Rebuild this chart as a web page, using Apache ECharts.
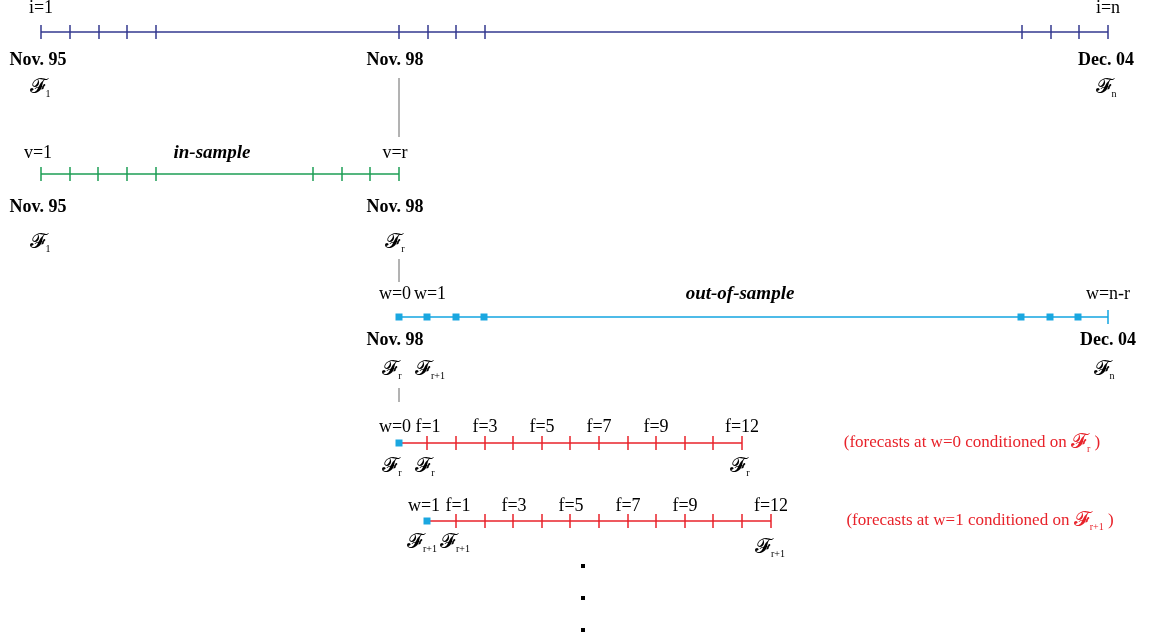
<!DOCTYPE html>
<html><head><meta charset="utf-8">
<script src="https://cdn.jsdelivr.net/npm/echarts@6/dist/echarts.min.js"></script>
<style>html,body{margin:0;background:#fff}#c{width:1154px;height:643px}</style>
</head><body><div id="c"></div>
<script>
// diagram coordinates: x, y in page units (y grows downward)
const timeline = { y: 32, from: 41, to: 1108, ticks: [41, 70, 99, 127, 156, 399, 428, 456, 485, 1022, 1051, 1079, 1108] };
const inSample = { y: 174, from: 41, to: 399, ticks: [41, 70, 98, 127, 156, 313, 342, 370, 399] };
const outSample = { y: 317, from: 399, to: 1108, squares: [399, 427, 456, 484, 1021, 1050, 1078], ticks: [1108] };
const fcast0 = { y: 443, from: 399, to: 742, squares: [399], ticks: [427, 456, 485, 513, 542, 570, 599, 628, 656, 685, 713, 742] };
const fcast1 = { y: 521, from: 427, to: 771, squares: [427], ticks: [456, 485, 513, 542, 570, 599, 628, 656, 685, 713, 742, 771] };
const connectors = [[399, 78, 137], [399, 259, 282], [399, 388, 402]];
const dots = [[583, 566], [583, 598], [583, 630]];

const F = s => '{f|𝓕}{s|' + s + '}';
const texts = [
  [41, 8, 'i=1', 'p'], [1108, 8, 'i=n', 'p'],
  [38, 60, 'Nov. 95', 'b'], [395, 60, 'Nov. 98', 'b'], [1106, 60, 'Dec. 04', 'b'],
  [40, 88, F('1'), 'p'], [1106, 88, F('n'), 'p'],
  [38, 153, 'v=1', 'p'], [212, 153, 'in-sample', 'bi'], [395, 153, 'v=r', 'p'],
  [38, 207, 'Nov. 95', 'b'], [395, 207, 'Nov. 98', 'b'],
  [40, 243, F('1'), 'p'], [395, 243, F('r'), 'p'],
  [395, 294, 'w=0', 'p'], [430, 294, 'w=1', 'p'], [740, 294, 'out-of-sample', 'bi'], [1108, 294, 'w=n-r', 'p'],
  [395, 340, 'Nov. 98', 'b'], [1108, 340, 'Dec. 04', 'b'],
  [392, 370, F('r'), 'p'], [430, 370, F('r+1'), 'p'], [1104, 370, F('n'), 'p'],
  [395, 427, 'w=0', 'p'], [428, 427, 'f=1', 'p'], [485, 427, 'f=3', 'p'], [542, 427, 'f=5', 'p'],
  [599, 427, 'f=7', 'p'], [656, 427, 'f=9', 'p'], [742, 427, 'f=12', 'p'],
  [392, 467, F('r'), 'p'], [425, 467, F('r'), 'p'], [740, 467, F('r'), 'p'],
  [972, 443, '(forecasts at w=0 conditioned on ' + F('r') + ' )', 'r'],
  [424, 506, 'w=1', 'p'], [458, 506, 'f=1', 'p'], [514, 506, 'f=3', 'p'], [571, 506, 'f=5', 'p'],
  [628, 506, 'f=7', 'p'], [685, 506, 'f=9', 'p'], [771, 506, 'f=12', 'p'],
  [422, 543, F('r+1'), 'p'], [455, 543, F('r+1'), 'p'], [770, 548, F('r+1'), 'p'],
  [980, 521, '(forecasts at w=1 conditioned on ' + F('r+1') + ' )', 'r']
];

const serif = 'Liberation Serif';
const styles = {
  p: { color: '#000', fontSize: 18, fontFamily: serif },
  b: { color: '#000', fontSize: 18, fontFamily: serif, fontWeight: 'bold' },
  bi: { color: '#000', fontSize: 19, fontFamily: serif, fontWeight: 'bold', fontStyle: 'italic' },
  r: { color: '#e8222a', fontSize: 17, fontFamily: serif }
};

const series = [];
function addAxis(a, color, sq) {
  series.push({ type: 'line', data: [[a.from, a.y], [a.to, a.y]], symbol: 'none', lineStyle: { color: color, width: 1.5 }, silent: true });
  series.push({ type: 'scatter', data: a.ticks.map(x => [x, a.y]), symbol: 'rect', symbolSize: [1.5, 14], itemStyle: { color: color, opacity: 1 }, silent: true });
  if (a.squares) series.push({ type: 'scatter', data: a.squares.map(x => [x, a.y]), symbol: 'rect', symbolSize: sq, itemStyle: { color: '#1aa7e0', opacity: 1 }, silent: true, z: 3 });
}
addAxis(timeline, '#33398f');
addAxis(inSample, '#1d9e55');
addAxis(outSample, '#12a4e0', 7);
addAxis(fcast0, '#e8222a', 7);
addAxis(fcast1, '#e8222a', 7);
connectors.forEach(c => series.push({ type: 'line', data: [[c[0], c[1]], [c[0], c[2]]], symbol: 'none', lineStyle: { color: '#666', width: 1 }, silent: true }));
series.push({ type: 'scatter', data: dots, symbol: 'rect', symbolSize: 4, itemStyle: { color: '#000', opacity: 1 }, silent: true });

series.push({
  type: 'scatter', symbolSize: 0, silent: true, itemStyle: { opacity: 1 },
  data: texts.map(t => {
    const st = styles[t[3]];
    return {
      value: [t[0], t[1]],
      label: Object.assign({ show: true, position: 'inside', formatter: t[2], align: 'center', verticalAlign: 'middle', opacity: 1,
        rich: {
          f: { fontSize: 21, fontFamily: 'DejaVu Serif', color: st.color, verticalAlign: 'middle' },
          s: { fontSize: 10, fontFamily: serif, color: st.color, padding: [12, 0, 0, 0] }
        } }, st)
    };
  })
});

const chart = echarts.init(document.getElementById('c'));
chart.setOption({
  animation: false,
  grid: { left: 0, right: 0, top: 0, bottom: 0 },
  xAxis: { type: 'value', min: 0, max: 1154, show: false },
  yAxis: { type: 'value', min: 0, max: 643, inverse: true, show: false },
  series: series
});
</script></body></html>
